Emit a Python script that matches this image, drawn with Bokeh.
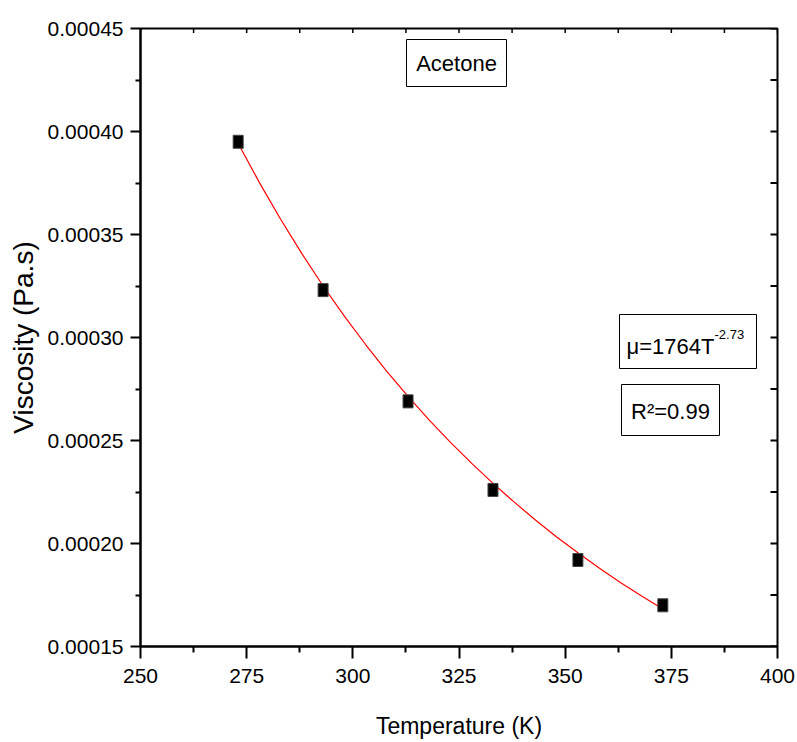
import math
from bokeh.plotting import figure
from bokeh.models import (Range1d, FixedTicker, PrintfTickFormatter,
                          Label, BoxAnnotation, ColumnDataSource)
from bokeh.embed import file_html
from bokeh.resources import INLINE

# ---- data ----
temperature = [273, 293, 313, 333, 353, 373]
viscosity = [0.000395, 0.000323, 0.000269, 0.000226, 0.000192, 0.000170]

# fitted curve mu = 1764 T^-2.73 (values listed)
fit_T = [273, 278, 283, 288, 293, 298, 303, 308, 313, 318, 323,
         328, 333, 338, 343, 348, 353, 358, 363, 368, 373]
fit_mu = [0.0003942, 0.0003752, 0.0003574, 0.0003407, 0.0003250, 0.0003104,
          0.0002966, 0.0002836, 0.0002714, 0.0002599, 0.0002491, 0.0002389,
          0.0002292, 0.0002201, 0.0002114, 0.0002032, 0.0001955, 0.0001881,
          0.0001811, 0.0001745, 0.0001682]

x_ticks = [250, 275, 300, 325, 350, 375, 400]
x_minor = [262.5, 287.5, 312.5, 337.5, 362.5, 387.5]
y_ticks = [0.00015, 0.00020, 0.00025, 0.00030, 0.00035, 0.00040, 0.00045]
y_minor = [0.000175, 0.000225, 0.000275, 0.000325, 0.000375, 0.000425]

title_text = "Acetone"
x_label = "Temperature (K)"
y_label = "Viscosity (Pa.s)"
eq_main = "\u03bc=1764T"
eq_sup = "-2.73"
r2_text = "R\u00b2=0.99"

FONT = "Liberation Sans"

# ---- geometry (page pixel coords; page has no margin) ----
W, H = 797, 742
L, R, T, B = 140, 20, 28, 96
FW = W - L - R
FH = H - T - B
X0, X1 = 250, 400
Y0, Y1 = 0.00015, 0.00045

def px2x(px):
    return X0 + (px - L) / FW * (X1 - X0)

def py2y(py):
    return Y0 + (T + FH - py) / FH * (Y1 - Y0)

p = figure(width=W, height=H, output_backend="svg", toolbar_location=None,
           x_range=Range1d(X0, X1), y_range=Range1d(Y0, Y1),
           min_border_left=L, min_border_right=R, min_border_top=T, min_border_bottom=B)
p.outline_line_color = "black"
p.outline_line_width = 2
p.xgrid.visible = False
p.ygrid.visible = False
p.background_fill_color = "white"
p.border_fill_color = "white"

xa = p.xaxis[0]
xa.ticker = FixedTicker(ticks=x_ticks, minor_ticks=x_minor)
xa.axis_label = x_label
ya = p.yaxis[0]
ya.ticker = FixedTicker(ticks=y_ticks, minor_ticks=y_minor)
ya.formatter = PrintfTickFormatter(format="%.5f")
ya.axis_label = y_label

for ax in (xa, ya):
    ax.axis_line_width = 2
    ax.major_tick_line_width = 2
    ax.minor_tick_line_width = 2
    ax.major_tick_in = 0
    ax.minor_tick_in = 0
    ax.major_label_text_font = FONT
    ax.major_label_text_font_size = "21px"
    ax.major_label_text_color = "black"
    ax.axis_label_text_font = FONT
    ax.axis_label_text_font_style = "normal"
    ax.axis_label_text_color = "black"

xa.major_tick_out = 12
xa.minor_tick_out = 6
xa.major_label_standoff = 10
xa.axis_label_text_font_size = "23px"
xa.axis_label_standoff = 27

ya.major_tick_out = 10
ya.minor_tick_out = 5
ya.major_label_standoff = 7
ya.axis_label_text_font_size = "28px"
ya.axis_label_standoff = 6

# inward ticks on top and right edges
p.dash(x=x_ticks + x_minor, y=[Y1] * (len(x_ticks) + len(x_minor)),
       size=9, angle=math.pi / 2, line_color="black", line_width=1.5)
p.dash(x=[X1] * (len(y_ticks) + len(y_minor)), y=y_ticks + y_minor,
       size=14, line_color="black", line_width=2)

# fit curve
p.line(fit_T, fit_mu, line_color="red", line_width=1.2)

# data markers
src = ColumnDataSource(dict(x=temperature, y=viscosity))
p.rect("x", "y", width=10, height=13, width_units="screen", height_units="screen",
       source=src, fill_color="black", line_color="#444444", line_width=1)

# text boxes
def box(l, r, t, b):
    p.add_layout(BoxAnnotation(left=px2x(l), right=px2x(r), top=py2y(t), bottom=py2y(b),
                               fill_color="white", fill_alpha=1.0,
                               line_color="black", line_width=1, line_alpha=1.0))

box(406, 506, 39, 86)
p.add_layout(Label(x=px2x(456), y=py2y(63), text=title_text, text_font=FONT,
                   text_font_size="22px", text_align="center",
                   text_baseline="middle", text_color="black"))

box(619, 756, 314, 368)
p.add_layout(Label(x=px2x(626), y=py2y(346), text=eq_main, text_font=FONT,
                   text_font_size="22px", text_align="left",
                   text_baseline="middle", text_color="black"))
p.add_layout(Label(x=px2x(714), y=py2y(334), text=eq_sup, text_font=FONT,
                   text_font_size="13px", text_align="left",
                   text_baseline="middle", text_color="black"))

box(621, 719, 384, 435)
p.add_layout(Label(x=px2x(670), y=py2y(411), text=r2_text, text_font=FONT,
                   text_font_size="22px", text_align="center",
                   text_baseline="middle", text_color="black"))

open("out.html", "w").write(file_html(p, INLINE))
